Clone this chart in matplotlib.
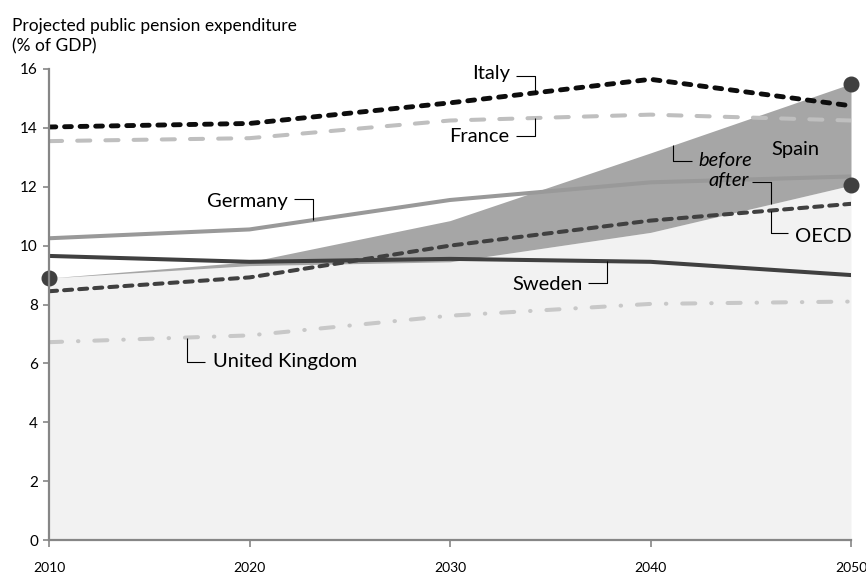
import numpy as np
import matplotlib
matplotlib.use("Agg")
import matplotlib.pyplot as plt

plt.rcParams['font.family'] = ['Lato', 'DejaVu Sans']

years = [2010, 2020, 2030, 2040, 2050]
italy = [14.03, 14.15, 14.85, 15.65, 14.75]
france = [13.55, 13.65, 14.25, 14.45, 14.25]
germany = [10.25, 10.55, 11.55, 12.15, 12.35]
sweden = [9.65, 9.45, 9.55, 9.45, 9.0]
oecd = [8.45, 8.92, 10.0, 10.85, 11.42]
uk = [6.72, 6.95, 7.62, 8.02, 8.1]
spain_before = [8.9, 9.45, 10.85, 13.15, 15.5]
spain_after = [8.9, 9.32, 9.45, 10.45, 12.05]

yticks = [0, 2, 4, 6, 8, 10, 12, 14, 16]
xticks = [2010, 2020, 2030, 2040, 2050]
ylabel_text = "Projected public pension expenditure\n(% of GDP)"

W, H = 866, 577
fig = plt.figure(figsize=(W / 100, H / 100), dpi=100)
ax = fig.add_axes([49 / W, (H - 540) / H, (851 - 49) / W, (540 - 69) / H])

ax.fill_between(years, 0, spain_after, color='#f2f2f2', lw=0, zorder=1)
ax.fill_between(years, spain_after, spain_before, color='#a6a6a6', lw=0, zorder=2)

ax.plot(years, germany, color='#999999', lw=2.9, zorder=3, solid_joinstyle='round')
ax.plot(years, sweden, color='#404040', lw=2.9, zorder=4, solid_joinstyle='round')
ax.plot(years, uk, color='#c8c8c8', lw=2.9, zorder=4,
        dashes=(3.25, 3.94, 0.125, 3.94), dash_capstyle='round')
ax.plot(years, france, color='#bfbfbf', lw=2.9, zorder=5,
        dashes=(3.25, 3.75), dash_capstyle='round')
ax.plot(years, oecd, color='#404040', lw=2.9, zorder=6,
        dashes=(2.0, 1.75), dash_capstyle='round')
ax.plot(years, italy, color='#0d0d0d', lw=3.5, zorder=7,
        dashes=(1.4, 1.8), dash_capstyle='round')

ax.plot([years[0], years[-1], years[-1]],
        [spain_before[0], spain_before[-1], spain_after[-1]],
        ls='none', marker='o', ms=10.5, color='#404040', zorder=8, clip_on=False)

ax.set_xlim(2010, 2050)
ax.set_ylim(0, 16)
ax.set_xticks(xticks)
ax.set_yticks(yticks)
ax.tick_params(axis='x', length=5, width=1.2, color='#868686', pad=11, labelsize=10)
ax.tick_params(axis='y', length=4, width=1.2, color='#868686', pad=4, labelsize=11)
for s in ['top', 'right']:
    ax.spines[s].set_visible(False)
for s in ['left', 'bottom']:
    ax.spines[s].set_color('#868686')
    ax.spines[s].set_linewidth(1.6)
    ax.spines[s].set_zorder(9)
ax.patch.set_alpha(0)

fig.text(12 / W, 1 - 36 / H, ylabel_text, ha='left', va='center', fontsize=12.5,
         linespacing=1.35)

def px2x(px):
    return 2010 + (px - 49) / (802 / 40)

def py2y(py):
    return (540 - py) / (471 / 16)

lk = dict(color='black', lw=0.8, zorder=10, solid_capstyle='butt')
fs = 14.5

def elbow_right(series, text, tx_right, ty, hy, hx0, hx1, style='normal'):
    ax.text(px2x(tx_right), py2y(ty), text, ha='right', va='center', fontsize=fs,
            style=style, zorder=10)
    vx = px2x(hx1)
    vy = np.interp(vx, years, series)
    ax.plot([px2x(hx0), vx, vx], [py2y(hy), py2y(hy), vy], **lk)

def elbow_left(series, text, tx_left, ty, hy, vxp, hx1, style='normal'):
    ax.text(px2x(tx_left), py2y(ty), text, ha='left', va='center', fontsize=fs,
            style=style, zorder=10)
    vx = px2x(vxp)
    vy = np.interp(vx, years, series)
    ax.plot([vx, vx, px2x(hx1)], [vy, py2y(hy), py2y(hy)], **lk)

elbow_right(italy, 'Italy', 510, 73, 76, 516, 535)
elbow_right(france, 'France', 509, 136, 136, 516, 535)
elbow_right(germany, 'Germany', 288, 202, 199, 294, 313)
elbow_right(sweden, 'Sweden', 583, 284, 283, 588, 607)
elbow_right(spain_after, 'after', 749, 181, 182, 752, 771, style='italic')
elbow_left(uk, 'United Kingdom', 213, 362, 362, 187, 205)
elbow_left(oecd, 'OECD', 795, 236, 233, 771, 788)
elbow_left(spain_before, 'before', 698, 161, 161, 673, 692, style='italic')
ax.text(px2x(795), py2y(150), 'Spain', ha='center', va='center', fontsize=fs, zorder=10)

fig.savefig('out.png', dpi=100)
